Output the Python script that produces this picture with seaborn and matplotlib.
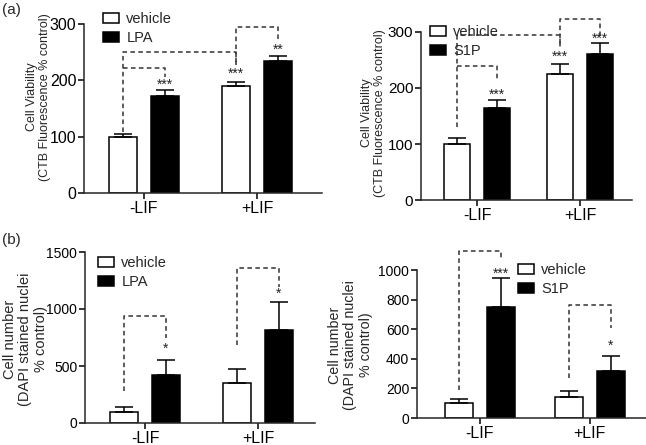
import matplotlib.pyplot as plt
import pandas as pd
import seaborn as sns
from matplotlib.patches import Patch

conditions = ['-LIF', '+LIF']

# (a) CTB viability, LPA
via_lpa_vehicle = [100, 190]
via_lpa_vehicle_sem = [4, 7]
via_lpa_drug = [173, 234]
via_lpa_drug_sem = [10, 10]

# (a) CTB viability, S1P
via_s1p_vehicle = [100, 225]
via_s1p_vehicle_sem = [10, 17]
via_s1p_drug = [165, 260]
via_s1p_drug_sem = [14, 20]

# (b) DAPI cell number, LPA
num_lpa_vehicle = [100, 355]
num_lpa_vehicle_sem = [40, 115]
num_lpa_drug = [425, 820]
num_lpa_drug_sem = [130, 245]

# (b) DAPI cell number, S1P
num_s1p_vehicle = [100, 140]
num_s1p_vehicle_sem = [30, 45]
num_s1p_drug = [750, 320]
num_s1p_drug_sem = [195, 100]

# significance brackets: (from bar, to bar, y start, y top, y end)
# bars are counted left to right: vehicle -LIF, drug -LIF, vehicle +LIF, drug +LIF
via_lpa_brackets = [(0, 2, 108, 250, 227), (0, 1, 222, 222, 206), (2, 3, 227, 295, 272)]
via_s1p_brackets = [(0, 2, 130, 295, 273), (0, 1, 240, 240, 214), (2, 3, 275, 323, 291)]
num_lpa_brackets = [(0, 1, 280, 938, 745), (2, 3, 684, 1360, 1193)]
num_s1p_brackets = [(0, 1, 190, 1128, 1080), (2, 3, 270, 763, 608)]

# stars: (bar, text, y)
via_lpa_stars = [(1, '***', 192), (2, '***', 211), (3, '**', 254)]
via_s1p_stars = [(1, '***', 187), (2, '***', 255), (3, '***', 287)]
num_lpa_stars = [(1, '*', 650), (3, '*', 1130)]
num_s1p_stars = [(1, '***', 973), (3, '*', 486)]

sns.set_style('ticks')
plt.rcParams['font.family'] = ['Liberation Sans', 'DejaVu Sans']
plt.rcParams['axes.linewidth'] = 1.1

W, H = 646, 445
fig = plt.figure(figsize=(W / 100, H / 100), dpi=100)


def px_axes(left, right, bottom, top):
    return fig.add_axes([left / W, 1 - bottom / H, (right - left) / W, (bottom - top) / H])


def draw_panel(ax, drug, vehicle, vehicle_sem, drug_vals, drug_sem, ylim, yticks,
               xlim, width, brackets, stars, legend_xy, label_xy, ylabel, label_size, tick_size):
    df = pd.DataFrame({
        'condition': conditions * 2,
        'treatment': ['vehicle'] * 2 + [drug] * 2,
        'value': vehicle + drug_vals,
    })
    sns.barplot(data=df, x='condition', y='value', hue='treatment',
                hue_order=['vehicle', drug], order=conditions,
                palette={'vehicle': 'white', drug: 'black'},
                edgecolor='black', linewidth=1.1, width=width, gap=0.33,
                errorbar=None, legend=False, ax=ax)
    bars = sorted(ax.patches, key=lambda p: p.get_x())
    vals = [vehicle[0], drug_vals[0], vehicle[1], drug_vals[1]]
    sems = [vehicle_sem[0], drug_sem[0], vehicle_sem[1], drug_sem[1]]
    centers = [b.get_x() + b.get_width() / 2 for b in bars]
    ax.errorbar(centers, vals, yerr=[[0] * 4, sems], fmt='none', ecolor='black',
                elinewidth=1.1, capsize=6.5, capthick=1.1, zorder=1)
    for i0, i1, y0, ytop, y1 in brackets:
        ax.plot([centers[i0], centers[i0], centers[i1], centers[i1]], [y0, ytop, ytop, y1],
                color='#333333', lw=1.1, ls=(0, (3, 2.2)), clip_on=False, zorder=0)
    for i, txt, y in stars:
        ax.text(centers[i], y, txt, ha='center', va='center', fontsize=10, color='#222222')
    ax.set_ylim(*ylim)
    ax.set_yticks(yticks)
    ax.set_xlim(*xlim)
    ax.set_xlabel('')
    ax.set_ylabel(ylabel, fontsize=label_size, linespacing=1.15)
    ax.yaxis.set_label_coords(label_xy[0] / W, 1 - label_xy[1] / H, transform=fig.transFigure)
    ax.tick_params(axis='y', length=4, width=1.1, pad=1.5, labelsize=tick_size, colors='black')
    ax.tick_params(axis='x', length=4, width=1.1, pad=1.5, labelsize=11.5, colors='black')
    sns.despine(ax=ax)
    handles = [Patch(facecolor='white', edgecolor='black', linewidth=1.1),
               Patch(facecolor='black', edgecolor='black', linewidth=1.1)]
    ax.legend(handles, ['vehicle', drug], loc='upper left',
              bbox_to_anchor=(legend_xy[0] / W, 1 - legend_xy[1] / H),
              bbox_transform=fig.transFigure, frameon=False, fontsize=10.5,
              handlelength=1.1, handleheight=0.75, handletextpad=0.5,
              borderpad=0, borderaxespad=0, labelspacing=0.35)


ax1 = px_axes(84, 322, 193, 24)
draw_panel(ax1, 'LPA', via_lpa_vehicle, via_lpa_vehicle_sem, via_lpa_drug, via_lpa_drug_sem,
           (0, 300), [0, 100, 200, 300], (-0.526, 1.57), 0.74, via_lpa_brackets, via_lpa_stars,
           (103, 12), (51, 97), 'Cell Viability\n(CTB Fluorescence % control)', 9, 11.5)

ax2 = px_axes(421, 632, 200, 32)
draw_panel(ax2, 'S1P', via_s1p_vehicle, via_s1p_vehicle_sem, via_s1p_drug, via_s1p_drug_sem,
           (0, 300), [0, 100, 200, 300], (-0.544, 1.505), 0.776, via_s1p_brackets, via_s1p_stars,
           (430, 25), (386, 113), 'Cell Viability\n(CTB Fluorescence % control)', 9, 11)

ax3 = px_axes(85, 315, 423, 252)
draw_panel(ax3, 'LPA', num_lpa_vehicle, num_lpa_vehicle_sem, num_lpa_drug, num_lpa_drug_sem,
           (0, 1500), [0, 500, 1000, 1500], (-0.531, 1.504), 0.74, num_lpa_brackets, num_lpa_stars,
           (98, 256), (48, 339), 'Cell number\n(DAPI stained nuclei\n% control)', 10.5, 10)

ax4 = px_axes(417, 660, 418, 270)
draw_panel(ax4, 'S1P', num_s1p_vehicle, num_s1p_vehicle_sem, num_s1p_drug, num_s1p_drug_sem,
           (0, 1000), [0, 200, 400, 600, 800, 1000], (-0.573, 1.64), 0.76, num_s1p_brackets,
           num_s1p_stars, (518, 263), (373, 345), 'Cell number\n(DAPI stained nuclei\n% control)', 10.3, 10)

fig.text(2 / W, 1 - 10 / H, '(a)', fontsize=11, va='center')
fig.text(2 / W, 1 - 240 / H, '(b)', fontsize=11, va='center')

fig.savefig('out.png', dpi=100)
